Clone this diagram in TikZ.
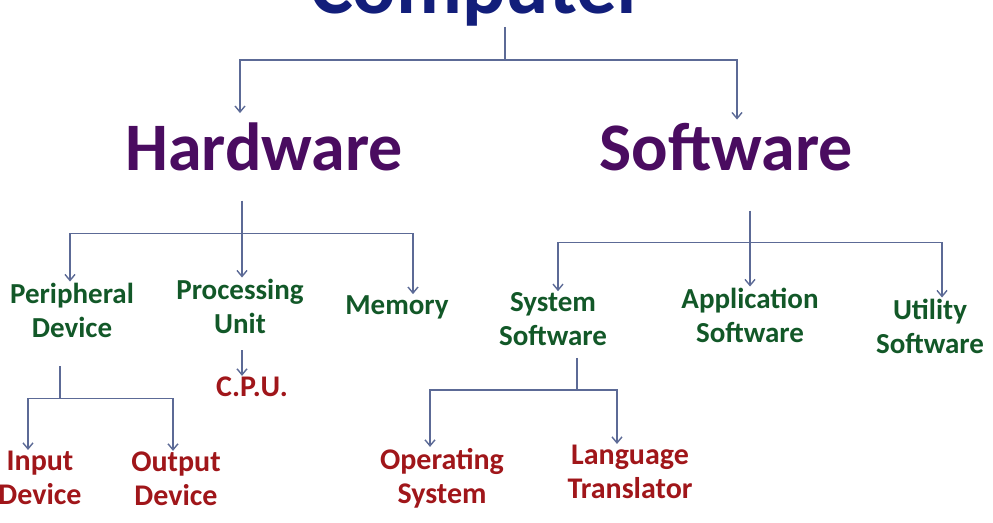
\documentclass[tikz,border=0pt]{standalone}
\usepackage{fontspec}
\setmainfont{Carlito}
\usetikzlibrary{arrows.meta}
\definecolor{bleunuit}{RGB}{18,30,122}
\definecolor{pourpre}{RGB}{74,12,96}
\definecolor{vert}{RGB}{18,88,40}
\definecolor{rouge}{RGB}{160,22,26}
\definecolor{gristrait}{RGB}{92,106,150}

\begin{document}
\begin{tikzpicture}[x=1pt,y=1pt]
		\tikzstyle{titre}=[font=\fontsize{81}{86}\selectfont\bfseries, text=bleunuit, inner sep=1pt]
		\tikzstyle{niveau}=[font=\fontsize{68}{72}\selectfont\bfseries, text=pourpre, inner sep=1pt]
		\tikzstyle{branche}=[font=\fontsize{29}{34}\selectfont\bfseries, text=vert, align=center, inner sep=1pt]
		\tikzstyle{feuille}=[branche, font=\fontsize{30}{34}\selectfont\bfseries, text=rouge]
		\tikzstyle{lien}=[draw=gristrait, line width=1.4pt]
		\tikzstyle{fleche}=[lien, -{Straight Barb[length=6pt,width=10pt]}]
		\useasboundingbox (0,0) rectangle (993,-522);
		\clip (0,0) rectangle (993,-522);
		\node[titre, anchor=base] (CO) at (478,-13) {Computer};
		\node[niveau, anchor=base] (HW) at (264,-170) {Hardware};
		\node[niveau, anchor=base] (SW) at (726,-170) {Software};
		\node[branche] (PD) at (72,-310) {Peripheral\\Device};
		\node[branche] (PU) at (240,-306) {Processing\\Unit};
		\node[branche] (ME) at (397,-307) {Memory};
		\node[branche] (SS) at (553,-319) {System\\Software};
		\node[branche] (AS) at (750,-315) {Application\\Software};
		\node[branche] (US) at (930,-326) {Utility\\Software};
		\node[feuille] (CP) at (252,-387) {C.P.U.};
		\node[feuille] (ID) at (40,-478) {Input\\Device};
		\node[feuille] (OD) at (176,-479) {Output\\Device};
		\node[feuille] (OS) at (442,-478) {Operating\\System};
		\node[feuille] (LT) at (630,-472) {Language\\Translator};

		\draw[lien] ([xshift=27pt]CO.south) -- ++(0,-33) coordinate (cj);
		\draw[fleche] (cj) -| ([xshift=-24pt,yshift=8pt]HW.north);
		\draw[fleche] (cj) -| ([xshift=11pt,yshift=2pt]SW.north);
		\draw[lien] ([xshift=-22pt,yshift=-29pt]HW.south) -- ++(0,-33) coordinate (hj);
		\draw[fleche] (hj) -| ([xshift=-2pt]PD.north);
		\draw[fleche] (hj) -| ([xshift=2pt]PU.north);
		\draw[fleche] (hj) -| ([xshift=16pt]ME.north);
		\draw[fleche] ([xshift=2pt,yshift=-16pt]PU.south) -- ([xshift=-10pt]CP.north);
		\draw[lien] ([xshift=-12pt,yshift=-28pt]PD.south) -- ++(0,-32) coordinate (pj);
		\draw[fleche] (pj) -| ([xshift=-12pt]ID.north);
		\draw[fleche] (pj) -| ([xshift=-3pt]OD.north);
		\draw[lien] ([xshift=24pt,yshift=-39pt]SW.south) -- ++(0,-32) coordinate (sj);
		\draw[fleche] (sj) -| ([xshift=5pt]SS.north);
		\draw[fleche] (sj) -| (AS.north);
		\draw[fleche] (sj) -| ([xshift=12pt]US.north);
		\draw[lien] ([xshift=24pt,yshift=-11pt]SS.south) -- ++(0,-32) coordinate (yj);
		\draw[fleche] (yj) -| ([xshift=-12pt]OS.north);
		\draw[fleche] (yj) -| ([xshift=-13pt]LT.north);
	\end{tikzpicture}
\end{document}
